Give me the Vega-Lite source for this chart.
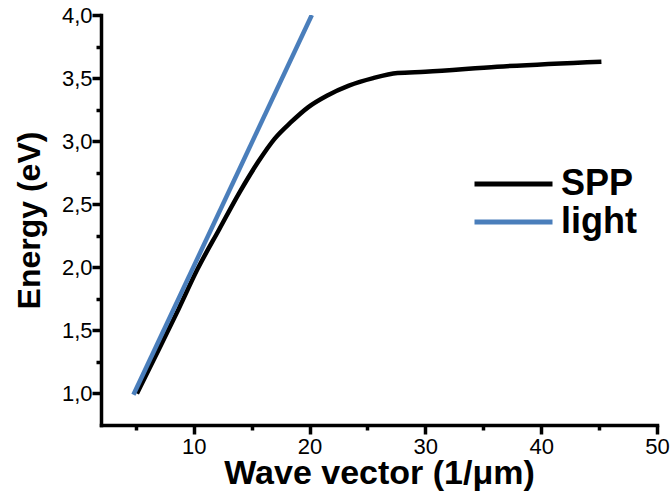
{
  "$schema": "https://vega.github.io/schema/vega-lite/v6.json",
  "width": 556,
  "height": 410,
  "autosize": {"type": "none"},
  "padding": {"left": 101, "top": 15, "right": 15, "bottom": 73},
  "background": "white",
  "config": {
    "view": {"stroke": null},
    "font": "Liberation Sans"
  },
  "data": {
    "values": [
      {"k": 5.1, "E": 1.0, "s": "SPP"},
      {"k": 7.0, "E": 1.35, "s": "SPP"},
      {"k": 8.7, "E": 1.67, "s": "SPP"},
      {"k": 10.3, "E": 1.98, "s": "SPP"},
      {"k": 12.2, "E": 2.3, "s": "SPP"},
      {"k": 14.0, "E": 2.6, "s": "SPP"},
      {"k": 15.6, "E": 2.84, "s": "SPP"},
      {"k": 17.0, "E": 3.02, "s": "SPP"},
      {"k": 18.4, "E": 3.15, "s": "SPP"},
      {"k": 19.9, "E": 3.27, "s": "SPP"},
      {"k": 21.5, "E": 3.36, "s": "SPP"},
      {"k": 23.4, "E": 3.44, "s": "SPP"},
      {"k": 25.5, "E": 3.5, "s": "SPP"},
      {"k": 27.6, "E": 3.54, "s": "SPP"},
      {"k": 30.0, "E": 3.55, "s": "SPP"},
      {"k": 36.2, "E": 3.59, "s": "SPP"},
      {"k": 45.2, "E": 3.63, "s": "SPP"},
      {"k": 4.8, "E": 0.99, "s": "light"},
      {"k": 20.2, "E": 4.0, "s": "light"}
    ]
  },
  "layer": [
    {
      "mark": {"type": "line", "opacity": 0},
      "encoding": {
        "x": {
          "field": "k",
          "type": "quantitative",
          "scale": {"domain": [2, 50], "nice": false, "zero": false},
          "axis": {
            "orient": "bottom",
            "title": null,
            "values": [5, 15, 25, 35, 45],
            "labels": false,
            "domain": false,
            "tickSize": 5,
            "tickColor": "#000000",
            "tickWidth": 3.5,
            "grid": false
          }
        },
        "y": {
          "field": "E",
          "type": "quantitative",
          "scale": {"domain": [0.75, 4.0], "nice": false, "zero": false},
          "axis": {
            "orient": "left",
            "title": null,
            "values": [1.25, 1.75, 2.25, 2.75, 3.25, 3.75],
            "labels": false,
            "domain": false,
            "tickSize": 5,
            "tickColor": "#000000",
            "tickWidth": 3.5,
            "grid": false
          }
        },
        "detail": {"field": "s"}
      }
    },
    {
      "mark": {"type": "line", "strokeWidth": 4.5, "interpolate": "monotone", "clip": true},
      "encoding": {
        "x": {
          "field": "k",
          "type": "quantitative",
          "axis": {
            "orient": "bottom",
            "title": "Wave vector (1/μm)",
            "values": [10, 20, 30, 40, 50],
            "tickSize": 9,
            "domainColor": "#000000",
            "domainWidth": 3.5,
            "domainCap": "square",
            "tickColor": "#000000",
            "tickWidth": 3.5,
            "grid": false,
            "labelFontSize": 22,
            "labelColor": "black",
            "labelPadding": 2,
            "labelFlush": false,
            "labelOverlap": false,
            "titleFontWeight": "bold",
            "titleFontSize": 34,
            "titleColor": "black",
            "titleBaseline": "alphabetic",
            "titleY": 58
          }
        },
        "y": {
          "field": "E",
          "type": "quantitative",
          "axis": {
            "orient": "left",
            "title": "Energy (eV)",
            "values": [1, 1.5, 2, 2.5, 3, 3.5, 4],
            "labelExpr": "replace(format(datum.value, '.1f'), '.', ',')",
            "tickSize": 9,
            "domainColor": "#000000",
            "domainWidth": 3.5,
            "domainCap": "square",
            "tickColor": "#000000",
            "tickWidth": 3.5,
            "grid": false,
            "labelFontSize": 22,
            "labelColor": "black",
            "labelPadding": 0,
            "labelFlush": false,
            "labelOverlap": false,
            "titleFontWeight": "bold",
            "titleFontSize": 32,
            "titleColor": "black",
            "titleBaseline": "alphabetic",
            "titleX": -62
          }
        },
        "color": {
          "field": "s",
          "type": "nominal",
          "scale": {"domain": ["SPP", "light"], "range": ["#000000", "#4a7ebb"]},
          "legend": {
            "title": null,
            "orient": "none",
            "legendX": 371,
            "legendY": 150,
            "symbolType": "stroke",
            "symbolSize": 6084,
            "symbolStrokeWidth": 5,
            "clipHeight": 38,
            "rowPadding": 0,
            "labelFontSize": 36,
            "labelFontWeight": "bold",
            "labelColor": "black",
            "labelOffset": 6
          }
        }
      }
    }
  ],
  "resolve": {"axis": {"x": "independent", "y": "independent"}}
}
